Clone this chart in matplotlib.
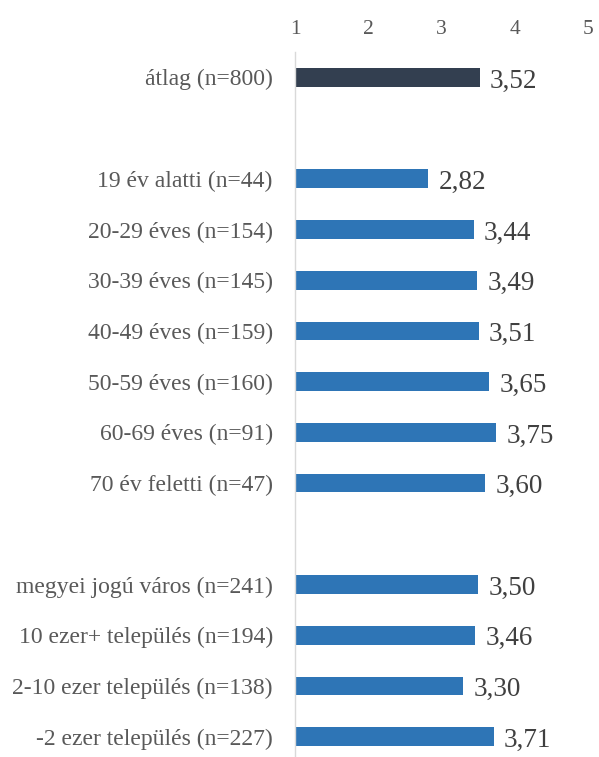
import numpy as np
import matplotlib
matplotlib.use('Agg')
from matplotlib import pyplot as plt

plt.rcParams['font.family'] = ['Liberation Serif', 'DejaVu Serif']

# rows from top to bottom, '' marks an empty separator row
labels = ['átlag (n=800)', '',
          '19 év alatti (n=44)', '20-29 éves (n=154)', '30-39 éves (n=145)',
          '40-49 éves (n=159)', '50-59 éves (n=160)', '60-69 éves (n=91)',
          '70 év feletti (n=47)', '',
          'megyei jogú város (n=241)', '10 ezer+ település (n=194)',
          '2-10 ezer település (n=138)', '-2 ezer település (n=227)']
values = [3.52, None,
          2.82, 3.44, 3.49, 3.51, 3.65, 3.75, 3.60, None,
          3.50, 3.46, 3.30, 3.71]

DARK = '#333F50'
BLUE = '#2E75B6'

fig = plt.figure(figsize=(5.99, 7.57), dpi=100)
ax = fig.add_axes([295 / 599, 0.0, (588 - 295) / 599, (757 - 52) / 757])

y = np.arange(len(labels))
for i, v in enumerate(values):
    if v is None:
        continue
    color = DARK if i == 0 else BLUE
    ax.barh(i, v - 1, left=1, height=0.37, color=color)
    ax.text(v + 0.14, i + 0.07, f'{v:.2f}'.replace('.', ','), va='center', ha='left',
            fontsize=19.5, color='#404040')

ax.set_xlim(1, 5)
ax.set_ylim(13.4, -0.5)
ax.set_xticks([1, 2, 3, 4, 5])
ax.xaxis.tick_top()
ax.tick_params(axis='x', length=0, pad=9, labelsize=15.5, labelcolor='#595959')
ax.set_yticks(y)
ax.set_yticklabels(labels)
ax.tick_params(axis='y', length=0, pad=16, labelsize=17, labelcolor='#595959')

for s in ['top', 'right', 'bottom']:
    ax.spines[s].set_visible(False)
ax.spines['left'].set_color('#D9D9D9')
ax.spines['left'].set_linewidth(1.0)

fig.savefig('out.png', dpi=100)
